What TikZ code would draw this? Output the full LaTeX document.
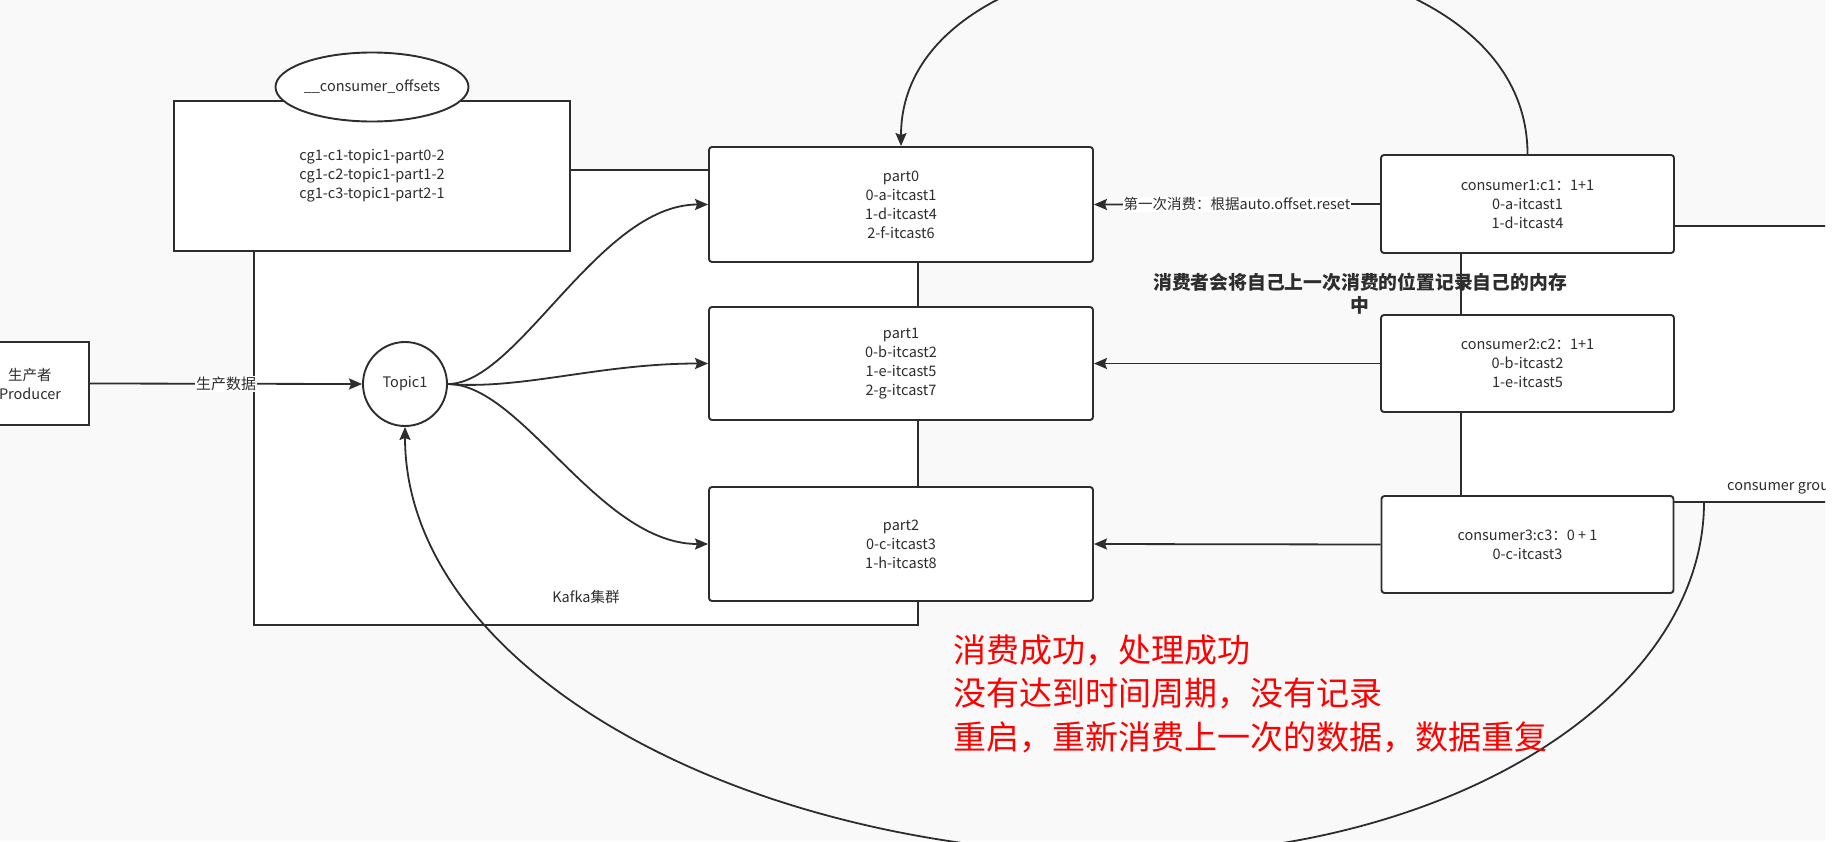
\documentclass[tikz,border=0pt]{standalone}
\usepackage{fontspec}
\setmainfont{Noto Sans CJK SC}
\usetikzlibrary{arrows.meta,shapes.geometric}
\definecolor{bg}{RGB}{249,249,249}
\definecolor{lc}{RGB}{45,45,45}
\definecolor{tc}{RGB}{45,45,45}
\definecolor{redtxt}{RGB}{255,0,0}
\tikzset{
  base/.style={draw=lc, fill=white, line width=1.9pt, inner sep=0pt, align=center, text=tc, font=\fontsize{14.5}{19}\selectfont},
  rbox/.style={base, rectangle, rounded corners=3pt},
  sbox/.style={base, rectangle},
  conn/.style={draw=lc, line width=1.8pt},
  arr/.style={conn, -{Stealth[length=13pt,width=11pt,inset=2pt]}},
  lbl/.style={fill=white, inner sep=1pt, text=tc, font=\fontsize{14.5}{19}\selectfont},
  plain/.style={inner sep=0pt, text=tc, font=\fontsize{14.5}{19}\selectfont},
}
\begin{document}
\begin{tikzpicture}[x=1pt,y=-1pt]
\useasboundingbox (0,0) rectangle (1844,841);
\fill[white] (0,0) rectangle (1844,841);
\begin{scope}
\clip (0,0) rectangle (1825,841);
\fill[bg] (0,0) rectangle (1825,841);

% containers
\node[sbox, minimum width=664pt, minimum height=455pt] (kafka) at (586,397.5) {};
\node[plain] (kafkalbl) at (586,597) {Kafka集群};
\node[sbox, minimum width=649pt, minimum height=276pt] (cgroup) at (1785.5,364) {};
\node[plain, anchor=west] (cglbl) at (1727,488) {consumer group};

% offsets topic
\node[sbox, minimum width=396pt, minimum height=150pt] (offsets) at (372,176)
  {cg1-c1-topic1-part0-2\\cg1-c2-topic1-part1-2\\cg1-c3-topic1-part2-1};
\node[base, ellipse, minimum width=184pt, minimum height=69pt] (offname) at (372,87)
  {\_\_consumer\_offsets};

% producer and topic
\node[sbox, minimum width=118pt, minimum height=83pt] (producer) at (30,383.5) {生产者\\Producer};
\node[base, circle, minimum size=84pt] (topic) at (405,384) {Topic1};

% partitions
\node[rbox, minimum width=384pt, minimum height=115pt] (part0) at (901,204.5)
  {part0\\0-a-itcast1\\1-d-itcast4\\2-f-itcast6};
\node[rbox, minimum width=384pt, minimum height=113pt] (part1) at (901,363.5)
  {part1\\0-b-itcast2\\1-e-itcast5\\2-g-itcast7};
\node[rbox, minimum width=384pt, minimum height=114pt] (part2) at (901,544)
  {part2\\0-c-itcast3\\1-h-itcast8};

% consumers
\node[rbox, minimum width=293pt, minimum height=98pt] (cons1) at (1527.5,204)
  {consumer1:c1：1+1\\0-a-itcast1\\1-d-itcast4};
\node[rbox, minimum width=293pt, minimum height=97pt] (cons2) at (1527.5,363.5)
  {consumer2:c2：1+1\\0-b-itcast2\\1-e-itcast5};
\node[rbox, minimum width=292pt, minimum height=97pt] (cons3) at (1527.5,544.5)
  {consumer3:c3：0 + 1\\0-c-itcast3};

% connectors
\draw[arr] (producer.east) -- node[lbl, font=\fontsize{15}{19}\selectfont] (prodlbl) {生产数据} (topic.west);
\draw[arr] (topic.east) .. controls +(70,0) and +(-109,0) .. (part0.west);
\draw[arr] (topic.east) .. controls +(74,6) and +(-109,0) .. (part1.west);
\draw[arr] (topic.east) .. controls +(74,0) and +(-109,0) .. (part2.west);

\draw[arr] (cons1.west) -- node[lbl] (firstlbl) {第一次消费：根据auto.offset.reset} (part0.east);
\draw[arr] (cons2.west) -- (part1.east);
\draw[arr] (cons3.west) -- (part2.east);

\draw[arr] (cons1.north) .. controls +(0,-262) and +(0,-254) .. (part0.north);

\coordinate (cgout) at (1704,502);
\coordinate (low) at (1135,855);
\draw[arr] (cgout) .. controls +(0,195) and +(314,0) .. (low)
  .. controls +(-403,0) and +(0,237) .. (topic.south);

% annotations
\node[inner sep=0pt, text=tc, align=center, font=\fontsize{18.8}{23}\selectfont\bfseries] (memnote) at (1360,293.5)
  {消费者会将自己上一次消费的位置记录自己的内存\\中};
\node[inner sep=0pt, anchor=west, text=redtxt, align=left, font=\fontsize{33}{43.5}\selectfont] (rednote) at (953,693.5)
  {消费成功，处理成功\\没有达到时间周期，没有记录\\重启，重新消费上一次的数据，数据重复};
\end{scope}
\end{tikzpicture}
\end{document}
